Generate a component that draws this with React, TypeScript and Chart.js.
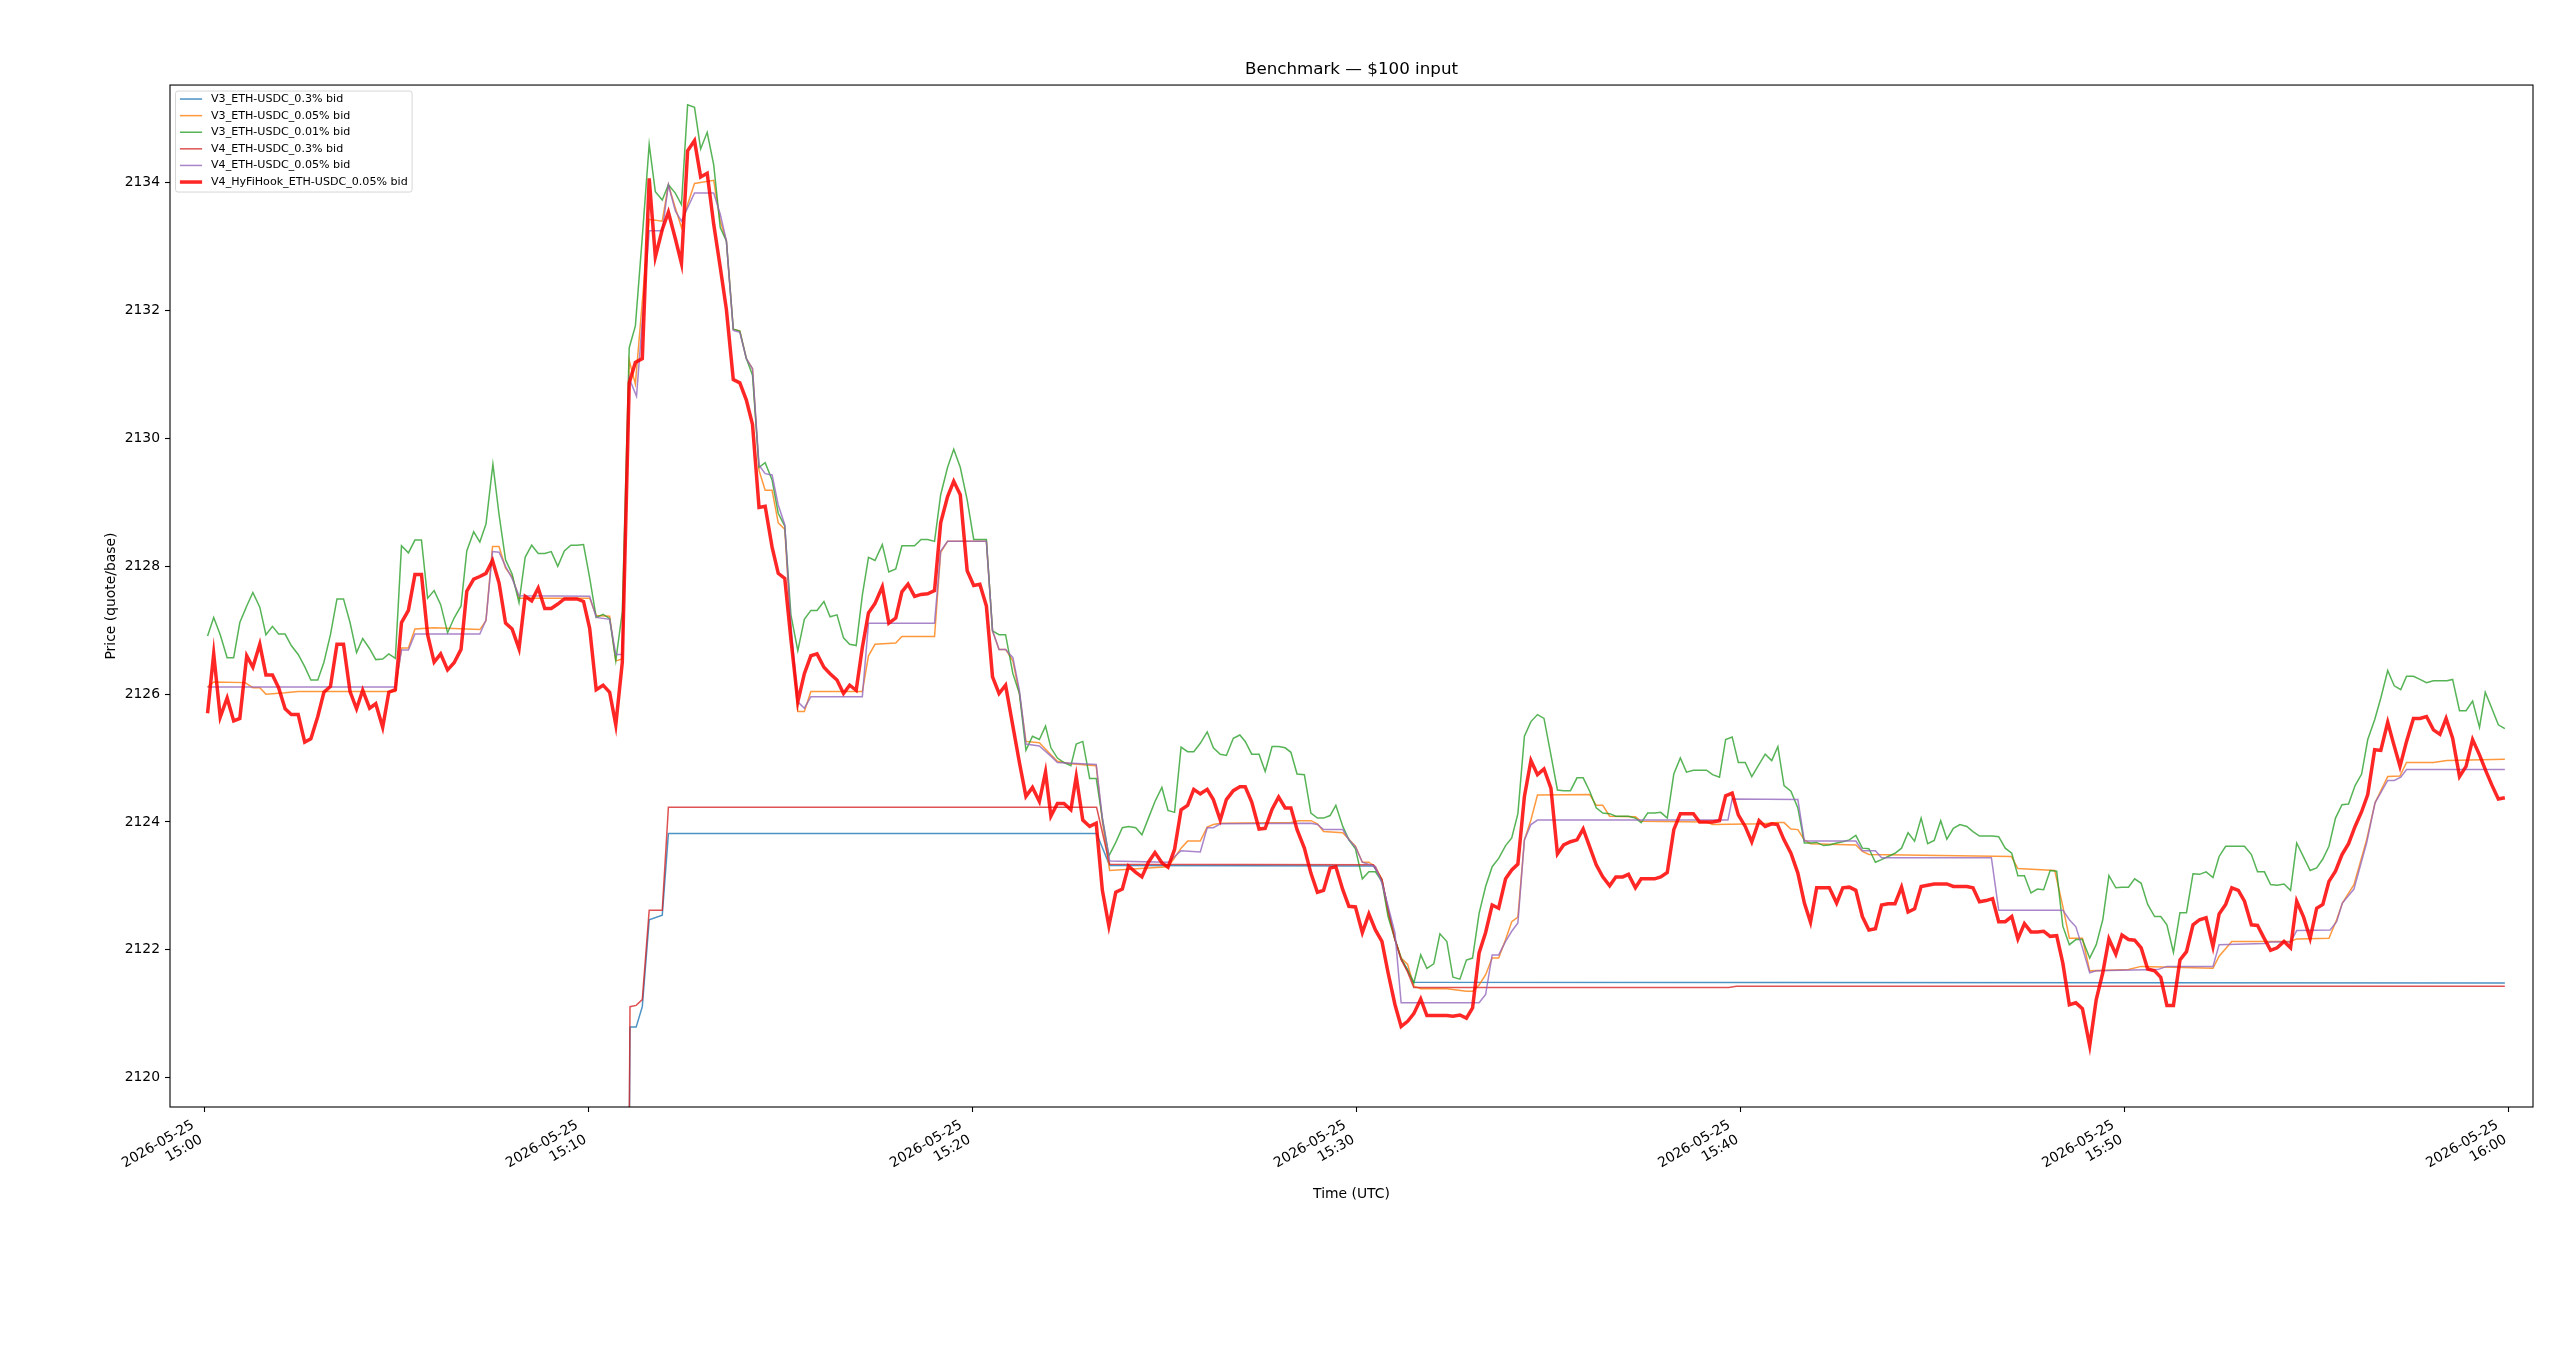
import { useEffect, useRef } from 'react'
import { Chart, registerables } from 'chart.js'

Chart.register(...registerables)

const FONT = 'DejaVu Sans'

// x values are minutes after 2026-05-25 15:00 UTC
const xTickMinutes = [0, 10, 20, 30, 40, 50, 60]
const xTickLabels = [
  ['2026-05-25', '15:00'],
  ['2026-05-25', '15:10'],
  ['2026-05-25', '15:20'],
  ['2026-05-25', '15:30'],
  ['2026-05-25', '15:40'],
  ['2026-05-25', '15:50'],
  ['2026-05-25', '16:00'],
]
const yTicks = [2120, 2122, 2124, 2126, 2128, 2130, 2132, 2134]

// V3_ETH-USDC_0.3% (first value sits below the visible range)
const v3p30Time = [10.93, 11.09, 11.25, 11.41, 11.59, 11.93, 12.09, 23.24, 23.58, 30.45, 30.67, 30.83, 31.01, 31.17, 31.34, 31.5, 59.91]
const v3p30Bid = [2105, 2120.79, 2120.79, 2121.11, 2122.47, 2122.54, 2123.82, 2123.82, 2123.32, 2123.31, 2123.1, 2122.63, 2122.16, 2121.85, 2121.69, 2121.49, 2121.48]

// V3_ETH-USDC_0.05%
const v3p05Time = [
  0.09, 0.25, 1.07, 1.27, 1.45, 1.61, 2.11, 2.45, 4.98, 5.14, 5.32, 5.49, 5.99, 7.18, 7.34, 7.51, 7.68, 7.85, 8.02, 8.2,
  10.04, 10.21, 10.56, 10.72, 10.89, 11.07, 11.23, 11.59, 11.93, 12.09, 12.27, 12.43, 12.59, 12.77, 13.27, 13.44, 13.6, 13.78, 13.95, 14.12,
  14.28, 14.45, 14.61, 14.79, 14.95, 15.12, 15.28, 15.46, 15.63, 15.8, 17.14, 17.3, 17.47, 18.01, 18.17, 19.02, 19.18, 19.36, 20.37, 20.53,
  20.7, 20.87, 21.06, 21.23, 21.4, 21.75, 22.05, 22.22, 22.57, 23.23, 23.39, 23.58, 25.1, 25.27, 25.44, 25.61, 25.94, 26.12, 26.28, 26.46,
  28.3, 28.5, 28.82, 28.99, 29.15, 29.65, 29.81, 29.98, 30.16, 30.33, 30.5, 30.67, 30.83, 31.01, 31.17, 31.34, 31.5, 31.68, 32.36, 32.87,
  33.03, 33.2, 33.37, 33.54, 33.71, 33.89, 34.05, 34.21, 34.38, 34.55, 34.72, 36.08, 36.25, 36.42, 36.6, 37.27, 37.42, 39.12, 39.28, 40.6,
  40.97, 41.14, 41.32, 41.5, 41.67, 41.83, 43.01, 43.18, 43.35, 47.06, 47.23, 48.19, 48.4, 48.57, 48.91, 49.1, 50.11, 50.44, 52.31, 52.47,
  52.8, 54.33, 54.49, 55.33, 55.53, 55.68, 55.98, 56.31, 56.53, 56.86, 57.18, 57.35, 58.05, 58.4, 59.91,
]
const v3p05Bid = [
  2126.11, 2126.19, 2126.18, 2126.1, 2126.1, 2126.0, 2126.02, 2126.04, 2126.04, 2126.72, 2126.72, 2127.02, 2127.04, 2127.01, 2127.15, 2128.31, 2128.31, 2127.97, 2127.84, 2127.5,
  2127.5, 2127.23, 2127.22, 2126.52, 2126.55, 2131.22, 2130.85, 2133.43, 2133.4, 2133.97, 2133.61, 2133.3, 2133.66, 2133.99, 2134.04, 2133.4, 2133.09, 2131.71, 2131.68, 2131.25,
  2131.09, 2129.5, 2129.19, 2129.19, 2128.68, 2128.58, 2127.0, 2125.73, 2125.73, 2126.04, 2126.04, 2126.6, 2126.78, 2126.8, 2126.9, 2126.9, 2128.22, 2128.39, 2128.39, 2126.99,
  2126.7, 2126.7, 2126.52, 2126.01, 2125.26, 2125.24, 2125.05, 2124.95, 2124.91, 2124.88, 2124.01, 2123.24, 2123.3, 2123.44, 2123.59, 2123.7, 2123.7, 2123.92, 2123.96, 2123.98,
  2123.99, 2124.02, 2124.02, 2123.97, 2123.85, 2123.83, 2123.73, 2123.62, 2123.37, 2123.37, 2123.3, 2123.1, 2122.57, 2122.16, 2121.87, 2121.77, 2121.43, 2121.39, 2121.39, 2121.35,
  2121.35, 2121.45, 2121.61, 2121.87, 2121.87, 2122.16, 2122.44, 2122.51, 2123.72, 2124.03, 2124.42, 2124.43, 2124.26, 2124.26, 2124.09, 2124.08, 2124.01, 2124.0, 2123.96, 2123.97,
  2123.99, 2123.99, 2123.89, 2123.88, 2123.72, 2123.66, 2123.64, 2123.54, 2123.49, 2123.46, 2123.27, 2123.24, 2122.68, 2122.18, 2122.18, 2121.67, 2121.69, 2121.74, 2121.71, 2121.9,
  2122.13, 2122.13, 2122.17, 2122.18, 2122.47, 2122.73, 2123.02, 2123.72, 2124.3, 2124.71, 2124.72, 2124.93, 2124.93, 2124.96, 2124.98,
]

// V3_ETH-USDC_0.01%
const v3p01Time = [
  0.09, 0.25, 0.42, 0.6, 0.77, 0.93, 1.11, 1.27, 1.45, 1.61, 1.78, 1.94, 2.11, 2.27, 2.45, 2.62, 2.78, 2.96, 3.12, 3.29,
  3.46, 3.63, 3.8, 3.97, 4.13, 4.31, 4.47, 4.65, 4.81, 4.98, 5.14, 5.32, 5.49, 5.66, 5.82, 5.99, 6.16, 6.34, 6.51, 6.69,
  6.84, 7.02, 7.18, 7.34, 7.52, 7.68, 7.85, 8.02, 8.2, 8.36, 8.53, 8.7, 8.87, 9.04, 9.21, 9.38, 9.55, 9.71, 9.88, 10.04,
  10.21, 10.39, 10.56, 10.72, 10.89, 11.07, 11.23, 11.41, 11.59, 11.75, 11.93, 12.09, 12.27, 12.43, 12.59, 12.77, 12.93, 13.1, 13.27, 13.44,
  13.6, 13.78, 13.95, 14.12, 14.28, 14.45, 14.61, 14.79, 14.95, 15.12, 15.28, 15.46, 15.63, 15.8, 15.96, 16.14, 16.3, 16.48, 16.65, 16.81,
  16.98, 17.14, 17.3, 17.47, 17.66, 17.83, 18.01, 18.17, 18.33, 18.5, 18.67, 18.84, 19.02, 19.18, 19.36, 19.52, 19.69, 19.87, 20.04, 20.2,
  20.37, 20.53, 20.7, 20.87, 21.06, 21.23, 21.4, 21.57, 21.75, 21.91, 22.05, 22.22, 22.39, 22.57, 22.71, 22.88, 23.06, 23.23, 23.39, 23.56,
  23.74, 23.91, 24.07, 24.26, 24.42, 24.59, 24.76, 24.94, 25.1, 25.27, 25.44, 25.61, 25.77, 25.94, 26.12, 26.28, 26.46, 26.62, 26.8, 26.97,
  27.11, 27.28, 27.47, 27.63, 27.81, 27.98, 28.15, 28.3, 28.46, 28.65, 28.82, 28.99, 29.15, 29.32, 29.47, 29.65, 29.81, 29.98, 30.16, 30.33,
  30.5, 30.67, 30.83, 31.01, 31.17, 31.34, 31.5, 31.68, 31.84, 32.02, 32.18, 32.36, 32.52, 32.7, 32.87, 33.03, 33.2, 33.37, 33.54, 33.71,
  33.89, 34.05, 34.21, 34.38, 34.55, 34.72, 34.89, 35.07, 35.24, 35.4, 35.58, 35.75, 35.91, 36.08, 36.25, 36.42, 36.6, 36.76, 36.94, 37.09,
  37.27, 37.42, 37.59, 37.77, 37.93, 38.1, 38.27, 38.44, 38.6, 38.78, 38.94, 39.12, 39.28, 39.46, 39.62, 39.79, 39.95, 40.13, 40.3, 40.49,
  40.65, 40.82, 40.98, 41.14, 41.32, 41.5, 41.67, 41.83, 41.99, 42.17, 42.32, 42.51, 42.67, 42.84, 43.01, 43.18, 43.35, 43.52, 43.68, 43.85,
  44.03, 44.2, 44.37, 44.54, 44.71, 44.88, 45.05, 45.22, 45.38, 45.55, 45.72, 45.9, 46.06, 46.23, 46.4, 46.57, 46.73, 46.9, 47.07, 47.23,
  47.4, 47.57, 47.74, 47.9, 48.07, 48.24, 48.4, 48.57, 48.74, 48.91, 49.1, 49.27, 49.44, 49.6, 49.78, 49.94, 50.11, 50.27, 50.44, 50.61,
  50.79, 50.95, 51.11, 51.28, 51.45, 51.62, 51.79, 51.96, 52.13, 52.31, 52.47, 52.64, 52.8, 52.97, 53.13, 53.31, 53.47, 53.65, 53.81, 53.98,
  54.16, 54.33, 54.49, 54.67, 54.84, 55.01, 55.17, 55.33, 55.5, 55.67, 55.84, 56.01, 56.18, 56.34, 56.52, 56.68, 56.86, 57.03, 57.2, 57.35,
  57.53, 57.7, 57.87, 58.05, 58.22, 58.4, 58.55, 58.73, 58.9, 59.07, 59.25, 59.4, 59.57, 59.74, 59.91,
]
const v3p01Bid = [
  2126.91, 2127.2, 2126.93, 2126.57, 2126.57, 2127.12, 2127.38, 2127.59, 2127.36, 2126.93, 2127.06, 2126.94, 2126.94, 2126.76, 2126.62, 2126.43, 2126.22, 2126.22, 2126.5, 2126.93,
  2127.49, 2127.49, 2127.12, 2126.65, 2126.87, 2126.71, 2126.54, 2126.55, 2126.63, 2126.56, 2128.32, 2128.21, 2128.41, 2128.41, 2127.5, 2127.62, 2127.4, 2126.96, 2127.19, 2127.38,
  2128.24, 2128.54, 2128.38, 2128.66, 2129.6, 2128.81, 2128.1, 2127.88, 2127.43, 2128.14, 2128.33, 2128.2, 2128.2, 2128.23, 2128.0, 2128.24, 2128.33, 2128.33, 2128.34, 2127.82,
  2127.2, 2127.25, 2127.18, 2126.52, 2127.29, 2131.42, 2131.76, 2133.15, 2134.6, 2133.86, 2133.73, 2133.97, 2133.84, 2133.66, 2135.22, 2135.18, 2134.53, 2134.79, 2134.28, 2133.3,
  2133.09, 2131.71, 2131.68, 2131.25, 2130.99, 2129.55, 2129.62, 2129.35, 2128.83, 2128.63, 2127.24, 2126.68, 2127.17, 2127.31, 2127.31, 2127.45, 2127.21, 2127.24, 2126.88, 2126.78,
  2126.76, 2127.55, 2128.14, 2128.09, 2128.34, 2127.91, 2127.96, 2128.32, 2128.32, 2128.32, 2128.42, 2128.42, 2128.39, 2129.12, 2129.55, 2129.83, 2129.55, 2129.04, 2128.42, 2128.42,
  2128.42, 2126.99, 2126.93, 2126.93, 2126.32, 2126.01, 2125.12, 2125.34, 2125.29, 2125.5, 2125.16, 2125.0, 2124.93, 2124.88, 2125.22, 2125.26, 2124.68, 2124.68, 2124.06, 2123.47,
  2123.68, 2123.91, 2123.93, 2123.91, 2123.8, 2124.06, 2124.32, 2124.54, 2124.18, 2124.15, 2125.17, 2125.1, 2125.1, 2125.23, 2125.41, 2125.16, 2125.06, 2125.04, 2125.31, 2125.36,
  2125.26, 2125.06, 2125.06, 2124.79, 2125.18, 2125.18, 2125.16, 2125.09, 2124.75, 2124.74, 2124.14, 2124.06, 2124.06, 2124.1, 2124.26, 2123.93, 2123.72, 2123.58, 2123.11, 2123.22,
  2123.22, 2123.07, 2122.52, 2122.16, 2121.87, 2121.67, 2121.48, 2121.92, 2121.71, 2121.78, 2122.25, 2122.13, 2121.57, 2121.54, 2121.84, 2121.87, 2122.57, 2122.99, 2123.3, 2123.43,
  2123.63, 2123.75, 2124.13, 2125.34, 2125.57, 2125.68, 2125.62, 2125.05, 2124.5, 2124.49, 2124.49, 2124.69, 2124.69, 2124.48, 2124.22, 2124.14, 2124.13, 2124.09, 2124.09, 2124.09,
  2124.06, 2123.99, 2124.14, 2124.14, 2124.15, 2124.06, 2124.75, 2125.0, 2124.78, 2124.81, 2124.81, 2124.81, 2124.74, 2124.7, 2125.29, 2125.33, 2124.93, 2124.93, 2124.71, 2124.9,
  2125.06, 2124.96, 2125.18, 2124.57, 2124.48, 2124.22, 2123.67, 2123.67, 2123.68, 2123.63, 2123.64, 2123.67, 2123.69, 2123.72, 2123.79, 2123.59, 2123.58, 2123.37, 2123.41, 2123.46,
  2123.51, 2123.59, 2123.83, 2123.7, 2124.06, 2123.66, 2123.71, 2124.02, 2123.73, 2123.9, 2123.96, 2123.93, 2123.85, 2123.78, 2123.78, 2123.78, 2123.77, 2123.59, 2123.51, 2123.16,
  2123.16, 2122.89, 2122.95, 2122.94, 2123.24, 2123.23, 2122.37, 2122.08, 2122.16, 2122.16, 2121.87, 2122.08, 2122.47, 2123.16, 2122.97, 2122.98, 2122.98, 2123.11, 2123.04, 2122.71,
  2122.52, 2122.52, 2122.39, 2121.96, 2122.58, 2122.58, 2123.19, 2123.18, 2123.22, 2123.13, 2123.46, 2123.62, 2123.62, 2123.62, 2123.62, 2123.49, 2123.22, 2123.22, 2123.02, 2123.01,
  2123.03, 2122.93, 2123.67, 2123.45, 2123.24, 2123.28, 2123.42, 2123.62, 2124.06, 2124.27, 2124.28, 2124.57, 2124.75, 2125.29, 2125.6, 2125.94, 2126.37, 2126.13, 2126.07, 2126.28,
  2126.28, 2126.23, 2126.18, 2126.21, 2126.21, 2126.21, 2126.23, 2125.74, 2125.74, 2125.89, 2125.48, 2126.03, 2125.78, 2125.52, 2125.46,
]

// V4_ETH-USDC_0.3% (first value sits below the visible range)
const v4p30Time = [10.93, 11.09, 11.25, 11.41, 11.59, 11.93, 12.09, 23.24, 23.58, 30.45, 30.67, 30.83, 31.01, 31.17, 31.34, 31.5, 39.7, 39.9, 59.91]
const v4p30Bid = [2105, 2121.11, 2121.13, 2121.22, 2122.62, 2122.62, 2124.23, 2124.23, 2123.34, 2123.33, 2123.1, 2122.63, 2122.16, 2121.85, 2121.65, 2121.41, 2121.41, 2121.43, 2121.43]

// V4_ETH-USDC_0.05%
const v4p05Time = [
  0.09, 4.98, 5.14, 5.32, 5.49, 7.18, 7.34, 7.51, 7.68, 7.85, 8.02, 8.2, 10.04, 10.21, 10.56, 10.72, 10.89, 11.07, 11.26, 11.59,
  11.93, 12.09, 12.27, 12.43, 12.77, 13.27, 13.44, 13.6, 13.78, 13.95, 14.12, 14.28, 14.45, 14.61, 14.79, 14.95, 15.12, 15.28, 15.46, 15.63,
  15.8, 17.14, 17.3, 19.02, 19.18, 19.36, 20.37, 20.53, 20.7, 20.87, 21.06, 21.23, 21.4, 21.75, 22.05, 22.22, 23.23, 23.39, 23.58, 25.12,
  25.27, 25.44, 25.94, 26.12, 26.28, 26.46, 28.82, 28.99, 29.15, 29.65, 29.81, 29.98, 30.16, 30.5, 30.67, 30.83, 31.01, 31.17, 33.2, 33.37,
  33.54, 33.71, 33.89, 34.05, 34.21, 34.38, 34.55, 34.72, 39.68, 39.79, 41.5, 41.67, 43.01, 43.18, 43.52, 43.68, 46.54, 46.73, 48.4, 48.57,
  48.74, 48.91, 49.1, 49.27, 50.87, 51.11, 52.31, 52.47, 53.65, 53.81, 54.33, 54.49, 55.36, 55.53, 55.68, 55.98, 56.31, 56.53, 56.86, 57.03,
  57.2, 57.35, 59.91,
]
const v4p05Bid = [
  2126.11, 2126.11, 2126.69, 2126.69, 2126.94, 2126.94, 2127.16, 2128.23, 2128.22, 2128.0, 2127.81, 2127.54, 2127.53, 2127.2, 2127.17, 2126.62, 2126.62, 2130.94, 2130.66, 2133.25,
  2133.25, 2133.97, 2133.56, 2133.4, 2133.84, 2133.84, 2133.51, 2133.09, 2131.69, 2131.66, 2131.25, 2131.09, 2129.58, 2129.45, 2129.43, 2128.96, 2128.65, 2127.09, 2125.88, 2125.78,
  2125.96, 2125.96, 2127.11, 2127.11, 2128.24, 2128.39, 2128.39, 2126.99, 2126.7, 2126.7, 2126.57, 2126.06, 2125.22, 2125.19, 2125.03, 2124.93, 2124.9, 2124.06, 2123.39, 2123.37,
  2123.46, 2123.55, 2123.53, 2123.91, 2123.91, 2123.97, 2123.98, 2123.96, 2123.88, 2123.88, 2123.72, 2123.61, 2123.37, 2123.3, 2123.04, 2122.68, 2122.26, 2121.17, 2121.17, 2121.3,
  2121.92, 2121.92, 2122.13, 2122.29, 2122.42, 2123.72, 2123.96, 2124.03, 2124.03, 2124.36, 2124.35, 2123.7, 2123.7, 2123.55, 2123.55, 2123.44, 2123.44, 2122.62, 2122.62, 2122.47,
  2122.36, 2122.03, 2121.64, 2121.67, 2121.69, 2121.74, 2121.74, 2122.08, 2122.1, 2122.12, 2122.12, 2122.3, 2122.31, 2122.44, 2122.73, 2122.95, 2123.67, 2124.3, 2124.65, 2124.65,
  2124.7, 2124.82, 2124.82,
]

// V4_HyFiHook_ETH-USDC_0.05%
const hookTime = [
  0.09, 0.25, 0.42, 0.6, 0.77, 0.93, 1.11, 1.27, 1.45, 1.61, 1.78, 1.94, 2.11, 2.27, 2.45, 2.62, 2.78, 2.96, 3.12, 3.29,
  3.46, 3.63, 3.8, 3.97, 4.13, 4.31, 4.47, 4.65, 4.81, 4.98, 5.14, 5.32, 5.49, 5.66, 5.82, 5.99, 6.16, 6.34, 6.51, 6.69,
  6.84, 7.02, 7.18, 7.34, 7.51, 7.68, 7.85, 8.02, 8.2, 8.36, 8.53, 8.7, 8.87, 9.04, 9.21, 9.38, 9.55, 9.71, 9.88, 10.04,
  10.21, 10.39, 10.56, 10.72, 10.89, 11.07, 11.23, 11.41, 11.59, 11.75, 11.93, 12.09, 12.27, 12.43, 12.59, 12.77, 12.93, 13.1, 13.27, 13.44,
  13.6, 13.78, 13.95, 14.12, 14.28, 14.45, 14.61, 14.79, 14.95, 15.12, 15.28, 15.46, 15.63, 15.8, 15.96, 16.14, 16.3, 16.48, 16.65, 16.81,
  16.98, 17.14, 17.3, 17.47, 17.66, 17.83, 18.01, 18.17, 18.33, 18.5, 18.67, 18.84, 19.02, 19.18, 19.36, 19.52, 19.69, 19.87, 20.04, 20.2,
  20.37, 20.53, 20.7, 20.87, 21.06, 21.23, 21.4, 21.57, 21.75, 21.91, 22.05, 22.22, 22.39, 22.57, 22.71, 22.88, 23.06, 23.23, 23.39, 23.56,
  23.74, 23.91, 24.07, 24.26, 24.42, 24.59, 24.76, 24.94, 25.1, 25.27, 25.44, 25.61, 25.77, 25.94, 26.12, 26.28, 26.46, 26.62, 26.8, 26.97,
  27.11, 27.28, 27.47, 27.63, 27.81, 27.98, 28.15, 28.3, 28.46, 28.65, 28.82, 28.99, 29.15, 29.32, 29.47, 29.65, 29.81, 29.98, 30.16, 30.33,
  30.5, 30.67, 30.83, 31.01, 31.17, 31.34, 31.5, 31.68, 31.84, 32.02, 32.18, 32.36, 32.52, 32.7, 32.87, 33.03, 33.2, 33.37, 33.54, 33.71,
  33.89, 34.05, 34.21, 34.38, 34.55, 34.72, 34.89, 35.07, 35.24, 35.4, 35.58, 35.75, 35.91, 36.08, 36.25, 36.42, 36.6, 36.76, 36.94, 37.09,
  37.27, 37.42, 37.59, 37.77, 37.93, 38.1, 38.27, 38.44, 38.6, 38.78, 38.94, 39.12, 39.28, 39.46, 39.62, 39.79, 39.95, 40.13, 40.3, 40.49,
  40.65, 40.82, 40.97, 41.14, 41.32, 41.5, 41.67, 41.83, 41.99, 42.17, 42.32, 42.51, 42.67, 42.84, 43.01, 43.18, 43.35, 43.52, 43.68, 43.85,
  44.03, 44.2, 44.37, 44.54, 44.71, 44.88, 45.05, 45.22, 45.38, 45.55, 45.72, 45.9, 46.06, 46.23, 46.4, 46.57, 46.73, 46.9, 47.07, 47.23,
  47.4, 47.57, 47.74, 47.9, 48.07, 48.24, 48.4, 48.57, 48.74, 48.91, 49.1, 49.27, 49.44, 49.6, 49.78, 49.94, 50.11, 50.27, 50.44, 50.61,
  50.79, 50.95, 51.11, 51.28, 51.45, 51.62, 51.79, 51.96, 52.13, 52.31, 52.47, 52.64, 52.8, 52.97, 53.13, 53.31, 53.47, 53.65, 53.81, 53.98,
  54.16, 54.33, 54.49, 54.67, 54.84, 55.01, 55.17, 55.33, 55.5, 55.67, 55.84, 56.01, 56.18, 56.34, 56.52, 56.68, 56.86, 57.01, 57.18, 57.35,
  57.53, 57.7, 57.87, 58.05, 58.22, 58.38, 58.55, 58.73, 58.9, 59.07, 59.25, 59.42, 59.57, 59.74, 59.91,
]
const hookBid = [
  2125.7, 2126.63, 2125.64, 2125.94, 2125.58, 2125.62, 2126.6, 2126.42, 2126.78, 2126.3, 2126.3, 2126.1, 2125.77, 2125.68, 2125.68, 2125.25, 2125.3, 2125.65, 2126.03, 2126.12,
  2126.78, 2126.78, 2126.04, 2125.77, 2126.06, 2125.78, 2125.85, 2125.48, 2126.03, 2126.07, 2127.12, 2127.31, 2127.87, 2127.87, 2126.93, 2126.5, 2126.63, 2126.38, 2126.49, 2126.7,
  2127.61, 2127.8, 2127.84, 2127.89, 2128.09, 2127.74, 2127.11, 2127.02, 2126.71, 2127.53, 2127.46, 2127.66, 2127.34, 2127.34, 2127.41, 2127.49, 2127.49, 2127.49, 2127.45, 2127.03,
  2126.07, 2126.14, 2126.03, 2125.52, 2126.5, 2130.87, 2131.19, 2131.25, 2134.07, 2132.84, 2133.27, 2133.54, 2133.13, 2132.74, 2134.5, 2134.66, 2134.09, 2134.15, 2133.35, 2132.68,
  2132.02, 2130.92, 2130.87, 2130.6, 2130.22, 2128.92, 2128.94, 2128.3, 2127.89, 2127.81, 2126.86, 2125.88, 2126.32, 2126.6, 2126.63, 2126.42, 2126.32, 2126.22, 2126.01, 2126.14,
  2126.06, 2126.73, 2127.27, 2127.42, 2127.68, 2127.11, 2127.19, 2127.6, 2127.72, 2127.53, 2127.56, 2127.57, 2127.62, 2128.68, 2129.09, 2129.33, 2129.12, 2127.93, 2127.7, 2127.72,
  2127.38, 2126.27, 2126.01, 2126.14, 2125.5, 2124.93, 2124.4, 2124.54, 2124.32, 2124.78, 2124.09, 2124.29, 2124.29, 2124.19, 2124.71, 2124.03, 2123.93, 2123.98, 2122.93, 2122.37,
  2122.9, 2122.95, 2123.31, 2123.21, 2123.14, 2123.37, 2123.52, 2123.36, 2123.29, 2123.57, 2124.19, 2124.26, 2124.51, 2124.44, 2124.51, 2124.35, 2124.03, 2124.35, 2124.49, 2124.55,
  2124.55, 2124.31, 2123.89, 2123.9, 2124.2, 2124.39, 2124.22, 2124.22, 2123.88, 2123.59, 2123.2, 2122.9, 2122.93, 2123.28, 2123.3, 2122.94, 2122.68, 2122.67, 2122.27, 2122.56,
  2122.31, 2122.13, 2121.64, 2121.14, 2120.8, 2120.88, 2121.0, 2121.23, 2120.97, 2120.97, 2120.97, 2120.97, 2120.96, 2120.98, 2120.93, 2121.09, 2121.95, 2122.27, 2122.7, 2122.65,
  2123.11, 2123.25, 2123.34, 2124.4, 2124.96, 2124.74, 2124.83, 2124.53, 2123.5, 2123.64, 2123.69, 2123.72, 2123.89, 2123.61, 2123.33, 2123.14, 2123.0, 2123.14, 2123.14, 2123.18,
  2122.97, 2123.11, 2123.11, 2123.11, 2123.14, 2123.21, 2123.88, 2124.13, 2124.13, 2124.13, 2124.0, 2124.0, 2124.0, 2124.02, 2124.41, 2124.45, 2124.11, 2123.93, 2123.69, 2124.02,
  2123.93, 2123.97, 2123.96, 2123.72, 2123.51, 2123.2, 2122.73, 2122.43, 2122.97, 2122.97, 2122.97, 2122.73, 2122.97, 2122.98, 2122.93, 2122.52, 2122.31, 2122.33, 2122.7, 2122.72,
  2122.72, 2122.98, 2122.59, 2122.64, 2122.99, 2123.01, 2123.03, 2123.03, 2123.03, 2122.99, 2122.99, 2122.99, 2122.97, 2122.75, 2122.77, 2122.8, 2122.44, 2122.44, 2122.52, 2122.17,
  2122.41, 2122.28, 2122.28, 2122.29, 2122.21, 2122.22, 2121.79, 2121.14, 2121.17, 2121.08, 2120.5, 2121.22, 2121.64, 2122.17, 2121.93, 2122.23, 2122.16, 2122.15, 2122.03, 2121.7,
  2121.67, 2121.57, 2121.13, 2121.13, 2121.84, 2121.97, 2122.39, 2122.47, 2122.5, 2122.05, 2122.56, 2122.71, 2122.97, 2122.93, 2122.76, 2122.39, 2122.38, 2122.17, 2121.99, 2122.03,
  2122.13, 2122.03, 2122.76, 2122.51, 2122.18, 2122.65, 2122.71, 2123.07, 2123.23, 2123.49, 2123.66, 2123.93, 2124.16, 2124.43, 2125.13, 2125.12, 2125.56, 2125.23, 2124.87, 2125.26,
  2125.62, 2125.62, 2125.65, 2125.44, 2125.37, 2125.62, 2125.31, 2124.71, 2124.87, 2125.29, 2125.05, 2124.79, 2124.58, 2124.36, 2124.38,
]

const points = (t: number[], v: number[]) => t.map((x, i) => ({ x, y: v[i] }))

// matplotlib-style frame round the plot area
const framePlugin = {
  id: 'frame',
  afterDraw(chart: any) {
    const { ctx, chartArea: a } = chart
    ctx.save()
    ctx.strokeStyle = '#000'
    ctx.lineWidth = 1.1
    ctx.strokeRect(a.left, a.top, a.right - a.left, a.bottom - a.top)
    ctx.restore()
  },
}

// legend box in the upper-left corner of the plot
const boxLegendPlugin = {
  id: 'boxLegend',
  afterDatasetsDraw(chart: any) {
    const { ctx, chartArea: a } = chart
    const sets = chart.data.datasets
    const fontSize = 11.1
    const pad = 4.4
    const handleLen = 22.2
    const gap = 8.9
    const rowH = 16.6
    ctx.save()
    ctx.font = `${fontSize}px "${FONT}"`
    const textW = Math.max(...sets.map((d: any) => ctx.measureText(d.label).width))
    const x0 = a.left + 5.5
    const y0 = a.top + 6
    const w = pad + handleLen + gap + textW + pad
    const h = 18 + rowH * (sets.length - 1)
    const r = 2.5
    ctx.beginPath()
    ctx.moveTo(x0 + r, y0)
    ctx.arcTo(x0 + w, y0, x0 + w, y0 + h, r)
    ctx.arcTo(x0 + w, y0 + h, x0, y0 + h, r)
    ctx.arcTo(x0, y0 + h, x0, y0, r)
    ctx.arcTo(x0, y0, x0 + w, y0, r)
    ctx.closePath()
    ctx.fillStyle = 'rgba(255,255,255,0.8)'
    ctx.fill()
    ctx.strokeStyle = 'rgba(204,204,204,0.8)'
    ctx.lineWidth = 1
    ctx.stroke()
    sets.forEach((d: any, i: number) => {
      const y = y0 + 8 + rowH * i
      ctx.beginPath()
      ctx.moveTo(x0 + pad, y)
      ctx.lineTo(x0 + pad + handleLen, y)
      ctx.strokeStyle = d.borderColor
      ctx.lineWidth = d.borderWidth
      ctx.stroke()
      ctx.fillStyle = '#000'
      ctx.textBaseline = 'middle'
      ctx.textAlign = 'left'
      ctx.fillText(d.label, x0 + pad + handleLen + gap, y)
    })
    ctx.restore()
  },
}

export default function App() {
  const canvasRef = useRef<HTMLCanvasElement>(null)

  useEffect(() => {
    document.body.style.margin = '0'
    if (!canvasRef.current) return

    const line = (label: string, t: number[], v: number[], color: string, width: number, order: number) => ({
      label,
      data: points(t, v),
      borderColor: color,
      backgroundColor: color,
      borderWidth: width,
      pointRadius: 0,
      tension: 0,
      fill: false,
      order,
    })

    const tickFont = { family: FONT, size: 13.9 }

    const chart = new Chart(canvasRef.current, {
      type: 'line',
      data: {
        datasets: [
          line('V3_ETH-USDC_0.3% bid', v3p30Time, v3p30Bid, 'rgba(31,119,180,0.8)', 1.5, 5),
          line('V3_ETH-USDC_0.05% bid', v3p05Time, v3p05Bid, 'rgba(255,127,14,0.8)', 1.5, 4),
          line('V3_ETH-USDC_0.01% bid', v3p01Time, v3p01Bid, 'rgba(44,160,44,0.8)', 1.5, 3),
          line('V4_ETH-USDC_0.3% bid', v4p30Time, v4p30Bid, 'rgba(214,39,40,0.8)', 1.5, 2),
          line('V4_ETH-USDC_0.05% bid', v4p05Time, v4p05Bid, 'rgba(148,103,189,0.8)', 1.5, 1),
          line('V4_HyFiHook_ETH-USDC_0.05% bid', hookTime, hookBid, 'rgba(255,0,0,0.85)', 3.5, 0),
        ],
      },
      options: {
        animation: false,
        responsive: true,
        maintainAspectRatio: false,
        layout: { padding: { left: 99, right: 27, top: 0, bottom: 150 } },
        plugins: {
          legend: { display: false },
          tooltip: { enabled: false },
          title: {
            display: true,
            text: 'Benchmark — $100 input',
            color: '#000',
            font: { family: FONT, size: 16.7, weight: 'normal' },
            padding: { top: 60, bottom: 5 },
            fullSize: false,
          },
        },
        scales: {
          x: {
            type: 'linear',
            min: -0.888,
            max: 60.643,
            afterBuildTicks: (axis: any) => {
              axis.ticks = xTickMinutes.map((value) => ({ value }))
            },
            afterFit: (axis: any) => {
              axis.height = 100
            },
            ticks: {
              autoSkip: false,
              minRotation: 30,
              maxRotation: 30,
              padding: 5,
              labelOffset: -11,
              color: '#000',
              font: tickFont,
              callback: (_v: any, i: number) => xTickLabels[i] ?? '',
            },
            grid: { display: true, drawOnChartArea: false, drawTicks: true, tickLength: 5, tickColor: '#000', tickWidth: 1.1 },
            border: { display: false },
            title: { display: true, text: 'Time (UTC)', color: '#000', font: tickFont, padding: { top: 4, bottom: 4 } },
          },
          y: {
            type: 'linear',
            min: 2119.54,
            max: 2135.53,
            afterBuildTicks: (axis: any) => {
              axis.ticks = yTicks.map((value) => ({ value }))
            },
            afterFit: (axis: any) => {
              axis.width = 71
            },
            ticks: {
              padding: 5,
              color: '#000',
              font: tickFont,
              callback: (v: any) => String(v),
            },
            grid: { display: true, drawOnChartArea: false, drawTicks: true, tickLength: 5, tickColor: '#000', tickWidth: 1.1 },
            border: { display: false },
            title: { display: true, text: 'Price (quote/base)', color: '#000', font: tickFont, padding: { top: 4, bottom: 4 } },
          },
        },
      },
      plugins: [boxLegendPlugin, framePlugin],
    } as any)

    return () => chart.destroy()
  }, [])

  return (
    <div style={{ position: 'relative', width: 2560, height: 1357, background: '#fff' }}>
      <canvas ref={canvasRef} />
    </div>
  )
}
